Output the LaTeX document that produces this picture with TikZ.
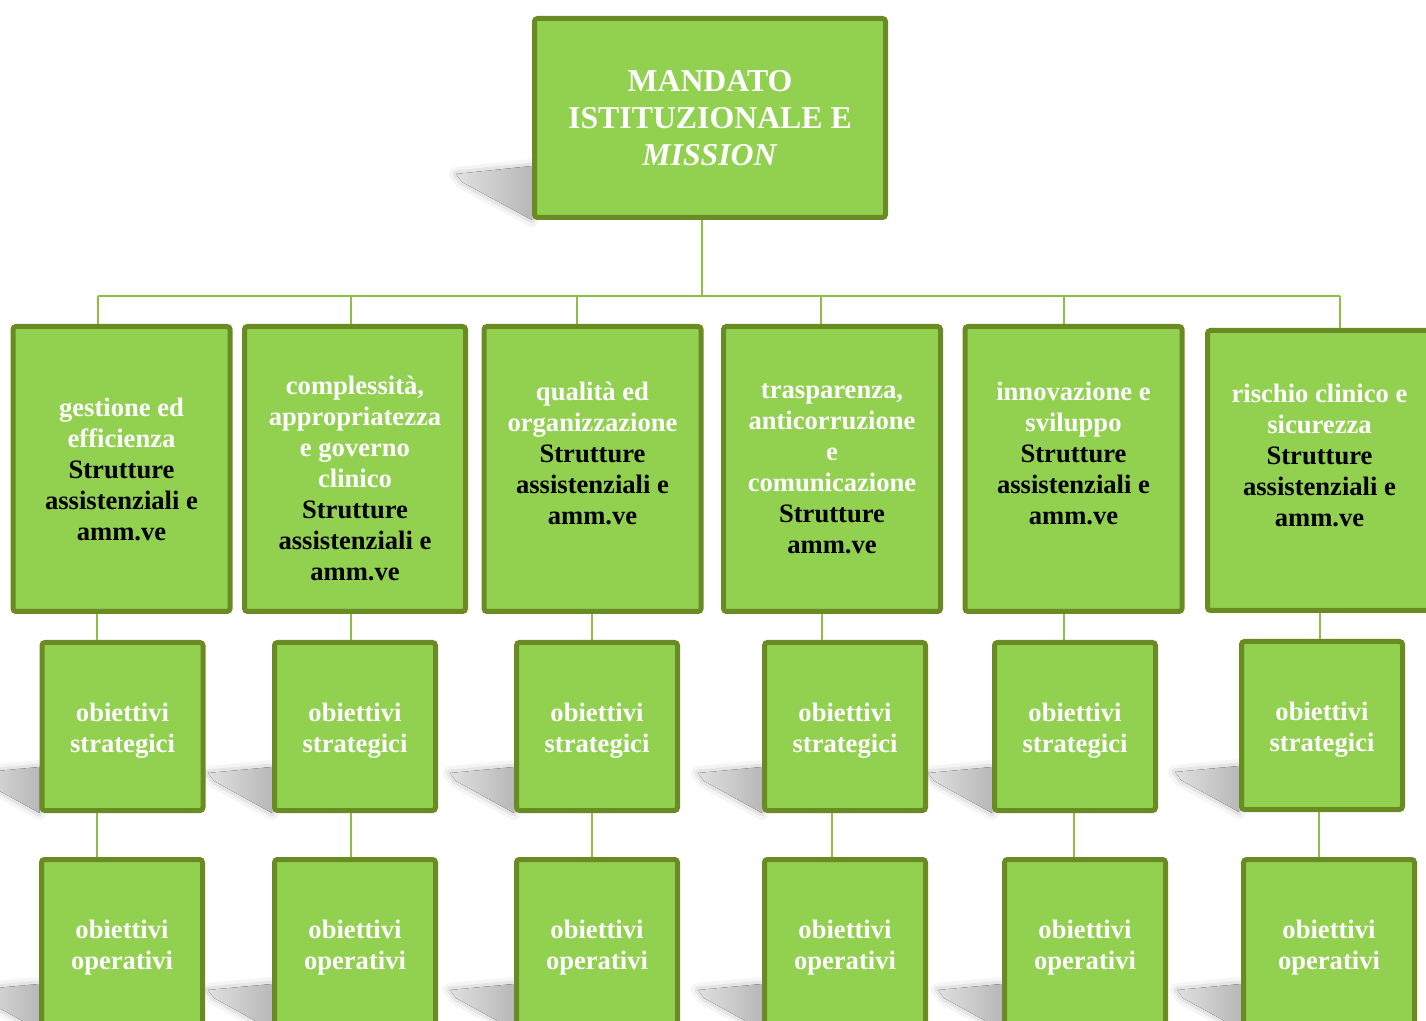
\documentclass[tikz,border=0pt]{standalone}
\usepackage{fontspec}
\setmainfont{Liberation Serif}
\usetikzlibrary{calc}

\definecolor{boxfill}{HTML}{92D050}
\definecolor{boxedge}{HTML}{6A8B23}
\definecolor{linkgreen}{HTML}{8EBE44}

\pgfdeclarelayer{background}
\pgfsetlayers{background,main}

\newcommand{\strutam}{\textcolor{black}{Strutture}\\\textcolor{black}{assistenziali e}\\\textcolor{black}{amm.ve}}
\newcommand{\obiettivi}[1]{\mbox{}\\[-2.5pt]obiettivi\\#1}

\begin{document}
\begin{tikzpicture}[
    x=0.5pt, y=-0.5pt,
    box/.style={rectangle, rounded corners=1.5pt, draw=boxedge, fill=boxfill,
                line width=2.5pt, inner sep=0pt, align=center, text=white,
                font=\bfseries\fontsize{13.3}{15.5}\selectfont},
    topbox/.style={box, minimum width=175.5pt, minimum height=99.5pt,
                   font=\bfseries\fontsize{15.9}{18.5}\selectfont},
    areabox/.style={box, minimum width=108.5pt, minimum height=142.5pt},
    goalbox/.style={box, minimum width=80.5pt, minimum height=84pt},
    link/.style={draw=linkgreen, line width=1pt},
    dropshade/.style={left color=black!12, right color=black!28,
                      preaction={draw=black!4, line width=7pt, line join=round},
                      preaction={draw=black!10, line width=3.5pt, line join=round}}
]
\useasboundingbox (0,0) rectangle (1426,1021);
\clip (0,0) rectangle (1426,1021);

% top
\node[topbox] (mandato) at (710,118) {MANDATO\\ISTITUZIONALE E\\\textit{MISSION}};

% areas
\node[areabox] (area1) at (121.5,469) {gestione ed\\efficienza\\\strutam};
\node[areabox, minimum width=110.5pt] (area2) at (355,469) {\mbox{}\\[3.5pt]complessità,\\appropriatezza\\e governo\\clinico\\\strutam};
\node[areabox] (area3) at (592.5,469) {qualità ed\\organizzazione\\\strutam\\\mbox{}};
\node[areabox] (area4) at (832,469) {trasparenza,\\anticorruzione\\e\\comunicazione\\\textcolor{black}{Strutture}\\\textcolor{black}{amm.ve}};
\node[areabox] (area5) at (1073.5,469) {innovazione e\\sviluppo\\\strutam\\\mbox{}};
\node[areabox, minimum width=112pt, minimum height=140pt] (area6) at (1319.5,470.5) {rischio clinico e\\sicurezza\\\strutam\\\mbox{}};

% obiettivi strategici
\node[goalbox] (strat1) at (122.5,726.5) {\obiettivi{strategici}};
\node[goalbox] (strat2) at (355,726.5)   {\obiettivi{strategici}};
\node[goalbox] (strat3) at (597,726.5)   {\obiettivi{strategici}};
\node[goalbox] (strat4) at (845,726.5)   {\obiettivi{strategici}};
\node[goalbox] (strat5) at (1075,726.5)  {\obiettivi{strategici}};
\node[goalbox] (strat6) at (1322,725.5)  {\obiettivi{strategici}};

% obiettivi operativi
\node[goalbox] (oper1) at (122,943.5)  {\obiettivi{operativi}};
\node[goalbox] (oper2) at (355,943.5)  {\obiettivi{operativi}};
\node[goalbox] (oper3) at (597,943.5)  {\obiettivi{operativi}};
\node[goalbox] (oper4) at (845,943.5)  {\obiettivi{operativi}};
\node[goalbox] (oper5) at (1085,943.5) {\obiettivi{operativi}};
\node[goalbox, minimum width=85.5pt] (oper6) at (1329,943.5) {\obiettivi{operativi}};

\begin{pgfonlayer}{background}
% shadows
\fill[dropshade] (mandato.south west) -- ($(mandato.south west)+(0,-54)$)
    -- ($(mandato.south west)+(-76,-46)$) -- ($(mandato.south west)+(-70,-38)$) -- cycle;
\foreach \n in {strat1,strat2,strat3,strat4,strat5,strat6,oper1,oper2,oper3,oper4,oper5,oper6}
  \fill[dropshade] (\n.south west) -- ($(\n.south west)+(0,-46)$)
      -- ($(\n.south west)+(-64,-40)$) -- ($(\n.south west)+(-58,-32)$) -- cycle;

% connectors
\coordinate (bus) at (0,296);
\draw[link] ([xshift=-4pt]mandato.south) -- ([xshift=-4pt]mandato.south |- bus);
\draw[link] ([xshift=-12pt]area1.north |- bus) -- ([xshift=10.25pt]area6.north |- bus);
\draw[link] ([xshift=-12pt]area1.north) -- ([xshift=-12pt]area1.north |- bus);
\draw[link] ([xshift=-2pt]area2.north) -- ([xshift=-2pt]area2.north |- bus);
\draw[link] ([xshift=-7.75pt]area3.north) -- ([xshift=-7.75pt]area3.north |- bus);
\draw[link] ([xshift=-5.5pt]area4.north) -- ([xshift=-5.5pt]area4.north |- bus);
\draw[link] ([xshift=-4.75pt]area5.north) -- ([xshift=-4.75pt]area5.north |- bus);
\draw[link] ([xshift=10.25pt]area6.north) -- ([xshift=10.25pt]area6.north |- bus);

\draw[link] ([xshift=-12.75pt]strat1.north) -- ([xshift=-12.75pt]strat1.north |- area1.south);
\draw[link] ([xshift=-2pt]strat2.north) -- ([xshift=-2pt]strat2.north |- area2.south);
\draw[link] ([xshift=-2.5pt]strat3.north) -- ([xshift=-2.5pt]strat3.north |- area3.south);
\draw[link] ([xshift=-11.5pt]strat4.north) -- ([xshift=-11.5pt]strat4.north |- area4.south);
\draw[link] ([xshift=-5.5pt]strat5.north) -- ([xshift=-5.5pt]strat5.north |- area5.south);
\draw[link] ([xshift=-1pt]strat6.north) -- ([xshift=-1pt]strat6.north |- area6.south);

\draw[link] ([xshift=-12.75pt]strat1.south) -- ([xshift=-12.75pt]strat1.south |- oper1.north);
\draw[link] ([xshift=-2pt]strat2.south) -- ([xshift=-2pt]strat2.south |- oper2.north);
\draw[link] ([xshift=-2.5pt]strat3.south) -- ([xshift=-2.5pt]strat3.south |- oper3.north);
\draw[link] ([xshift=-6.5pt]strat4.south) -- ([xshift=-6.5pt]strat4.south |- oper4.north);
\draw[link] ([xshift=-0.5pt]strat5.south) -- ([xshift=-0.5pt]strat5.south |- oper5.north);
\draw[link] ([xshift=-1.5pt]strat6.south) -- ([xshift=-1.5pt]strat6.south |- oper6.north);
\end{pgfonlayer}
\end{tikzpicture}
\end{document}
